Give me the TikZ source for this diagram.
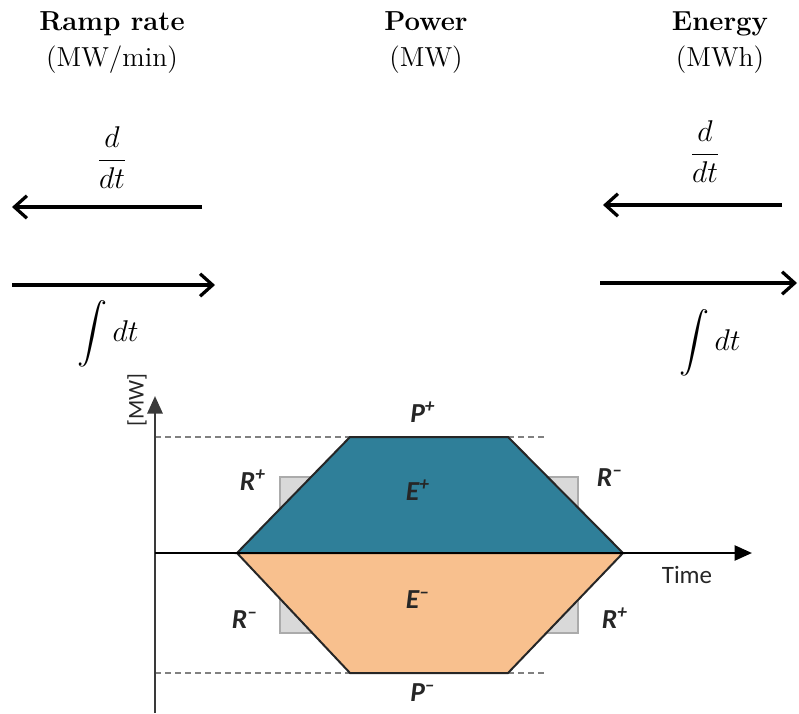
\documentclass[tikz,border=0pt]{standalone}
\usepackage{fontspec}
\usepackage{amsmath}
\newfontfamily\chartfont{Carlito}
\usetikzlibrary{arrows.meta, positioning}
\definecolor{chargeteal}{HTML}{2F7F99}
\definecolor{dischargepeach}{HTML}{F8C08E}
\definecolor{rampfill}{HTML}{D9D9D9}
\definecolor{rampedge}{HTML}{ABABAB}
\definecolor{axisgray}{HTML}{3A3A3A}
\newcommand{\up}{\textsuperscript{+}}
\newcommand{\dn}{\textsuperscript{–}}

\begin{document}
\begin{tikzpicture}[
    x=0.4pt, y=-0.4pt,
    quantity/.style={
        align=center, inner sep=0pt,
        font=\fontsize{11}{14.4}\selectfont
    },
    operator/.style={inner sep=0pt, font=\large},
    flow/.style={
        -{Straight Barb[length=5pt, width=9pt, line width=1.3pt]},
        line width=1.3pt
    },
    axis/.style={
        -{Triangle[length=7pt, width=6pt]},
        line width=1.1pt, color=axisgray
    },
    limit/.style={dashed, dash pattern=on 2.4pt off 1.6pt, color=gray, line width=0.7pt},
    rampbox/.style={fill=rampfill, draw=rampedge, line width=0.6pt},
    region/.style={draw=black!85, line width=0.8pt},
    chartlbl/.style={inner sep=1pt, text=black!85,
        font=\chartfont\bfseries\itshape\fontsize{11}{13}\selectfont}
]
\useasboundingbox (0,0) rectangle (799,713);

%% -- Quantities ---------------------------------------------------------------
\node[quantity] (ramp)   at (112,43) {\textbf{Ramp rate}\\(MW/min)};
\node[quantity] (power)  at (426,43) {\textbf{Power}\\(MW)};
\node[quantity] (energy) at (720,43) {\textbf{Energy}\\(MWh)};

%% -- Operators ----------------------------------------------------------------
\node[operator] (diffL) at (112,158) {$\displaystyle\frac{d}{dt}$};
\node[operator] (intL)  at (108,334) {$\displaystyle\int dt$};
\node[operator] (diffR) at (705,152) {$\displaystyle\frac{d}{dt}$};
\node[operator] (intR)  at (710,343) {$\displaystyle\int dt$};

\coordinate (dLs) at (202,207);  \coordinate (dLe) at (12,207);
\coordinate (iLs) at (12,285);   \coordinate (iLe) at (215,285);
\coordinate (dRs) at (782,205);  \coordinate (dRe) at (603,205);
\coordinate (iRs) at (600,283);  \coordinate (iRe) at (797,283);

\draw[flow] (dLs) -- (dLe);
\draw[flow] (iLs) -- (iLe);
\draw[flow] (dRs) -- (dRe);
\draw[flow] (iRs) -- (iRe);

%% -- Power profile ------------------------------------------------------------
\coordinate (org)  at (155,553);
\coordinate (ybot) at (155,713);
\coordinate (ytip) at (155,396);
\coordinate (xtip) at (752,553);
\coordinate (tstart) at (237,553);
\coordinate (tend)   at (623,553);
\coordinate (ul) at (350,437);  \coordinate (ur) at (508,437);
\coordinate (ll) at (350,673);  \coordinate (lr) at (508,673);

% ramp boxes sit behind the slopes
\draw[rampbox] (280,477) rectangle (322,511);
\draw[rampbox] (280,596) rectangle (322,633);
\draw[rampbox] (538,477) rectangle (578,509);
\draw[rampbox] (538,597) rectangle (578,633);

\draw[limit] (org |- ul) -- (ul);
\draw[limit] (ur) -- ++(40,0);
\draw[limit] (org |- ll) -- (ll);
\draw[limit] (lr) -- ++(40,0);

\draw[region, fill=chargeteal]     (tstart) -- (ul) -- (ur) -- (tend) -- cycle;
\draw[region, fill=dischargepeach] (tstart) -- (ll) -- (lr) -- (tend) -- cycle;

\draw[axis] (ybot) -- (ytip);
\draw[axis, color=black] (org) -- (xtip);

\node[chartlbl, rotate=90, font=\chartfont\fontsize{9}{11}\selectfont] (unit) at (137,400) {[MW]};
\node[chartlbl, font=\chartfont\fontsize{10}{12}\selectfont] (time) at (687,575) {Time};

\node[chartlbl] (pmax) at (423,412) {P\up};
\node[chartlbl] (pmin) at (423,693) {P\dn};
\node[chartlbl] (echg) at (418,490) {E\up};
\node[chartlbl] (edis) at (418,600) {E\dn};
\node[chartlbl] (rupL) at (253,480) {R\up};
\node[chartlbl] (rdnL) at (245,620) {R\dn};
\node[chartlbl] (rdnR) at (610,478) {R\dn};
\node[chartlbl] (rupR) at (615,618) {R\up};
\end{tikzpicture}
\end{document}
